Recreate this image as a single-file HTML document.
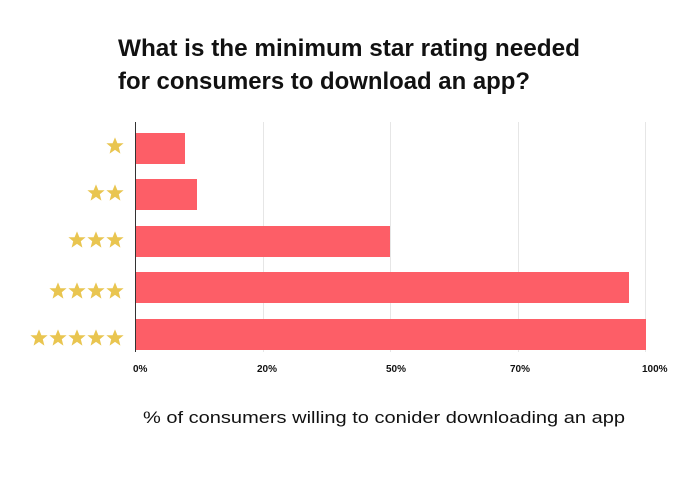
<!DOCTYPE html>
<html><head><meta charset="utf-8"><style>html,body{margin:0;padding:0;background:#fff;}svg{display:block}</style></head>
<body>
<svg width="693" height="479" viewBox="0 0 693 479" xmlns="http://www.w3.org/2000/svg" font-family="Liberation Sans, sans-serif">
<defs>
<polygon id="s" points="0,-8.6 2.4,-2.8 8.6,-2.7 3.8,1.3 5.4,7.6 0,3.9 -5.4,7.6 -3.8,1.3 -8.6,-2.7 -2.4,-2.8" fill="#e9c550"/>
</defs>
<text x="118" y="56" font-size="24" font-weight="bold" fill="#111" textLength="462" lengthAdjust="spacingAndGlyphs">What is the minimum star rating needed</text>
<text x="118" y="89" font-size="24" font-weight="bold" fill="#111" textLength="412" lengthAdjust="spacingAndGlyphs">for consumers to download an app?</text>
<g stroke="#e6e6e6" stroke-width="1">
<line x1="263.5" y1="122" x2="263.5" y2="352"/>
<line x1="390.5" y1="122" x2="390.5" y2="352"/>
<line x1="518.5" y1="122" x2="518.5" y2="352"/>
<line x1="645.5" y1="122" x2="645.5" y2="352"/>
</g>
<g fill="#fd5e67">
<rect x="136" y="133" width="49" height="31"/>
<rect x="136" y="179" width="61" height="31"/>
<rect x="136" y="226" width="254" height="31"/>
<rect x="136" y="272" width="493" height="31"/>
<rect x="136" y="319" width="510" height="31"/>
</g>
<line x1="135.5" y1="122" x2="135.5" y2="352" stroke="#333" stroke-width="1"/>
<use href="#s" x="115" y="146"/>
<use href="#s" x="96" y="193"/><use href="#s" x="115" y="193"/>
<use href="#s" x="77" y="240"/><use href="#s" x="96" y="240"/><use href="#s" x="115" y="240"/>
<use href="#s" x="58" y="291"/><use href="#s" x="77" y="291"/><use href="#s" x="96" y="291"/><use href="#s" x="115" y="291"/>
<use href="#s" x="39" y="338"/><use href="#s" x="58" y="338"/><use href="#s" x="77" y="338"/><use href="#s" x="96" y="338"/><use href="#s" x="115" y="338"/>
<g font-size="10" font-weight="bold" fill="#111">
<text x="133" y="372">0%</text>
<text x="257" y="372">20%</text>
<text x="386" y="372">50%</text>
<text x="510" y="372">70%</text>
<text x="642" y="372">100%</text>
</g>
<text x="384" y="423" font-size="17" fill="#111" text-anchor="middle" textLength="482" lengthAdjust="spacingAndGlyphs">% of consumers willing to conider downloading an app</text>
</svg>
</body></html>
